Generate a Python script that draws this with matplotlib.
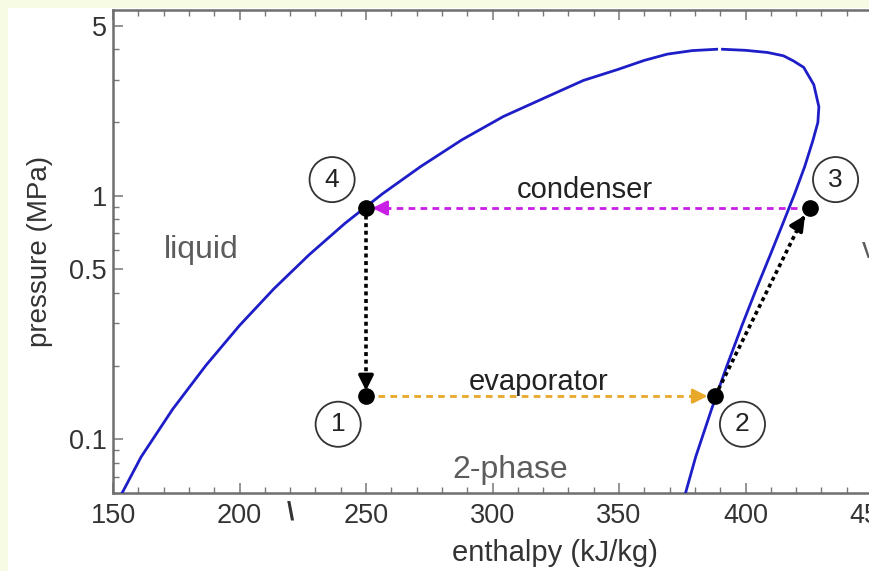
import matplotlib.pyplot as plt
from matplotlib.patches import Rectangle
from matplotlib.ticker import LogLocator, NullFormatter, FixedLocator

plt.rcParams["font.family"] = ["Liberation Sans", "DejaVu Sans"]

# saturation dome (h in kJ/kg, P in MPa)
liq_h = [153.6, 161.1, 173.6, 186.7, 200.0, 213.6, 227.5, 241.7, 256.4, 271.6, 288.0, 304.3, 322.6, 336.0, 349.4, 360.0, 369.1, 379.0, 388.6]
liq_p = [0.060, 0.0844, 0.1327, 0.2006, 0.2928, 0.4146, 0.5717, 0.7702, 1.0166, 1.3179, 1.70, 2.1168, 2.58, 2.98, 3.30, 3.60, 3.82, 3.95, 4.00]
vap_h = [376.3, 380.3, 386.6, 392.7, 398.6, 404.3, 409.8, 414.8, 419.4, 423.4, 426.6, 428.6, 429.0, 427.0, 423.0, 419.0, 415.0, 408.7, 400.0, 390.9]
vap_p = [0.060, 0.0844, 0.1327, 0.2006, 0.2928, 0.4146, 0.5717, 0.7702, 1.0166, 1.3179, 1.6818, 2.00, 2.32, 2.86, 3.37, 3.58, 3.76, 3.88, 3.96, 4.00]

# cycle states 1..4
state_h = [250, 388, 425.5, 250]
state_p = [0.15, 0.15, 0.89, 0.89]
state_lbl = ["1", "2", "3", "4"]
lbl_h = [239, 398.8, 435.6, 236.6]
lbl_p = [0.115, 0.115, 1.165, 1.165]

fig = plt.figure(figsize=(8.69, 5.71), dpi=100)
fig.patch.set_facecolor("#f7fbe4")
fig.patches.append(Rectangle((8 / 869, 0), 1, 1 - 8 / 571, transform=fig.transFigure,
                             facecolor="white", edgecolor="none", zorder=-5))

ax = fig.add_axes([113 / 869, 78 / 571, (922.6 - 113) / 869, (571 - 10 - 78) / 571])
ax.set_zorder(2)
ax.set_yscale("log")
ax.set_xlim(150, 470)
ax.set_ylim(0.06, 5.8)

ax.plot(liq_h, liq_p, color="#1e1ec8", lw=2.0, zorder=3)
ax.plot(vap_h, vap_p, color="#1e1ec8", lw=2.0, zorder=3)


def dashed_arrow(x0, y0, x1, y1, xb, yb, color, dashes, lw):
    ax.plot([x0, xb], [y0, yb], color=color, lw=lw, dashes=dashes, zorder=4)
    ax.annotate("", xy=(x1, y1), xytext=(xb, yb),
                arrowprops=dict(arrowstyle="-|>", color=color, lw=lw,
                                mutation_scale=22, shrinkA=0, shrinkB=0), zorder=5)


# 3 -> 4 condenser
dashed_arrow(420.5, 0.89, 252.5, 0.89, 255, 0.89, "#c81ee6", (2.4, 1.9), 2.0)
# 4 -> 1
dashed_arrow(250, 0.89, 250, 0.158, 250, 0.175, "black", (1.1, 1.0), 2.6)
# 1 -> 2 evaporator
dashed_arrow(250, 0.15, 385, 0.15, 382, 0.15, "#e8a82a", (2.4, 1.9), 2.0)
# 2 -> 3
dashed_arrow(388, 0.15, 423.5, 0.83, 422.5, 0.80, "black", (1.1, 1.0), 2.6)

ax.plot(state_h, state_p, "o", color="black", ms=11, zorder=6)

for t, x, y in zip(state_lbl, lbl_h, lbl_p):
    ax.text(x, y, t, fontsize=19, color="#222222", ha="center", va="center", zorder=7,
            bbox=dict(boxstyle="circle,pad=0.4", facecolor="white", edgecolor="#333333", lw=1.3))

ax.text(336.3, 1.06, "condenser", fontsize=21, color="#222222", ha="center", va="center")
ax.text(318.1, 0.172, "evaporator", fontsize=21, color="#222222", ha="center", va="center")
ax.text(184.8, 0.598, "liquid", fontsize=23, color="#5c5c5c", ha="center", va="center")
ax.text(307, 0.0746, "2-phase", fontsize=23, color="#5c5c5c", ha="center", va="center")

ax.set_xticks([150, 200, 250, 300, 350, 400, 450])
ax.xaxis.set_minor_locator(FixedLocator(range(150, 471, 10)))
ax.set_yticks([0.1, 0.5, 1, 5])
ax.set_yticklabels(["0.1", "0.5", "1", "5"])
ax.yaxis.set_minor_locator(LogLocator(base=10, subs=range(1, 10)))
ax.yaxis.set_minor_formatter(NullFormatter())

ax.tick_params(which="both", direction="in", top=True, right=True, color="#777777")
ax.tick_params(which="major", length=7, width=1.1, labelsize=19.5, labelcolor="#333333")
ax.tick_params(axis="y", which="major", pad=4.5)
ax.tick_params(axis="x", which="major", pad=7)
ax.tick_params(which="minor", length=4, width=1.0)
for s in ax.spines.values():
    s.set_color("#6e6e6e")
    s.set_linewidth(1.8)

fig.text(555 / 869, 1 - 553 / 571, "enthalpy (kJ/kg)", fontsize=21, color="#333333", ha="center", va="center")
fig.text(40 / 869, 1 - 251 / 571, "pressure (MPa)", fontsize=20, color="#333333", ha="center", va="center", rotation=90)
fig.text(290 / 869, 1 - 512 / 571, "\\", fontsize=19, color="#333333", ha="center", va="center", fontweight="bold")
fig.text(862 / 869, 1 - 250 / 571, "vapor", fontsize=21, color="#5c5c5c", ha="left", va="center")

fig.savefig("out.png", dpi=100, facecolor=fig.get_facecolor())
